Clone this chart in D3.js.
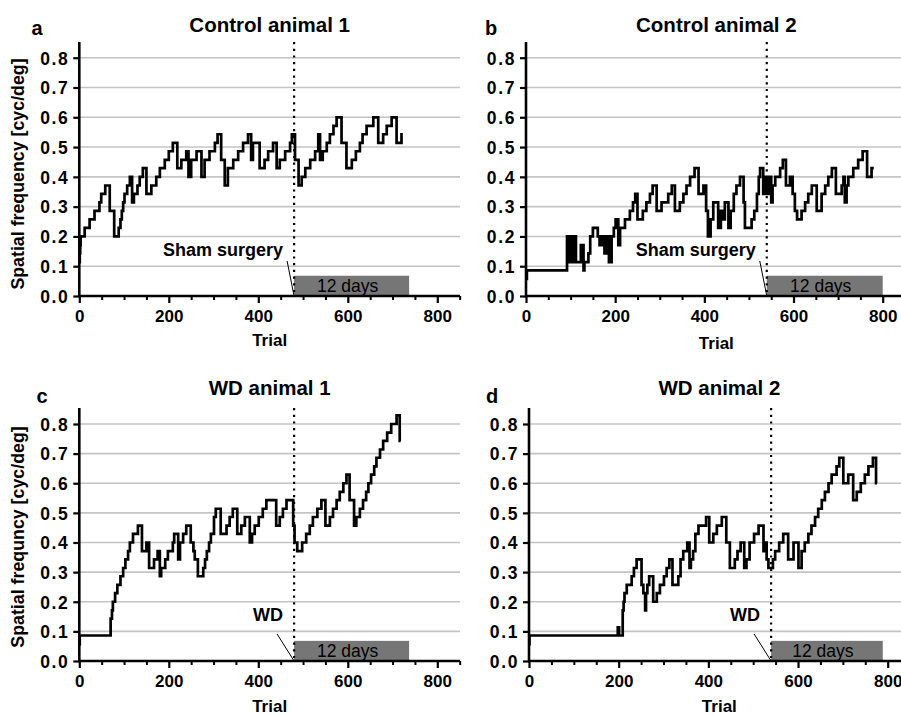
<!DOCTYPE html>
<html><head><meta charset="utf-8">
<script src="https://cdn.jsdelivr.net/npm/d3@7"></script>
<style>
html,body{margin:0;padding:0;background:#fff;}
svg{display:block;font-family:"Liberation Sans",Arial,sans-serif;}
</style></head>
<body>
<svg id="chart" width="901" height="715"></svg>
<script>
// ---------- data ----------
const xTicks = [0, 200, 400, 600, 800];
const yTicks = [0, 0.1, 0.2, 0.3, 0.4, 0.5, 0.6, 0.7, 0.8];
const panelLetters = ["a", "b", "c", "d"];
const panelTitles = ["Control animal 1", "Control animal 2", "WD animal 1", "WD animal 2"];
const yLabels = ["Spatial frequency [cyc/deg]", "", "Spatial frequncy [cyc/deg]", ""];
const eventLabels = ["Sham surgery", "Sham surgery", "WD", "WD"];
const eventTrials = [480, 540, 480, 540];
const periodEnd = [737, 800, 737, 789];
const periodLabel = "12 days";

const trialsA = [0,1,2,3,12,23,34,45,49,58,68,78,88,92,95,98,101,107,113,118,122,130,135,142,150,161,172,180,191,200,209,219,228,239,244,250,262,273,280,291,303,309,317,325,332,344,355,366,377,384,388,403,414,422,433,441,448,460,471,475,482,490,497,505,516,527,534,538,544,553,560,568,575,586,597,609,618,627,633,642,657,668,679,687,698,709,720,723];
const valuesA = [0.114,0.143,0.171,0.2,0.229,0.257,0.286,0.314,0.343,0.371,0.286,0.2,0.229,0.257,0.286,0.314,0.343,0.371,0.4,0.314,0.343,0.371,0.4,0.429,0.343,0.371,0.4,0.429,0.457,0.486,0.514,0.429,0.457,0.486,0.4,0.457,0.486,0.4,0.457,0.486,0.514,0.543,0.457,0.371,0.429,0.457,0.486,0.514,0.543,0.457,0.514,0.429,0.457,0.486,0.514,0.429,0.457,0.486,0.514,0.543,0.457,0.371,0.4,0.429,0.457,0.486,0.543,0.457,0.486,0.514,0.543,0.571,0.6,0.514,0.429,0.457,0.486,0.514,0.543,0.571,0.6,0.514,0.543,0.571,0.6,0.514,0.543,0.543];

const trialsB = [0,2,92,96,99,103,106,112,123,129,131,140,144,150,161,165,171,176,181,186,192,197,201,207,211,222,233,240,245,250,262,270,278,284,293,304,319,327,334,345,353,360,368,378,387,398,404,408,414,420,431,437,443,446,454,459,466,472,480,488,491,506,512,518,522,525,532,538,541,545,550,553,559,570,576,583,592,598,603,608,618,626,633,641,652,663,671,678,686,695,708,712,715,719,723,734,745,755,765,775,780];
const valuesB = [0.057,0.086,0.2,0.114,0.2,0.114,0.2,0.114,0.171,0.086,0.114,0.143,0.2,0.229,0.2,0.171,0.2,0.143,0.2,0.114,0.2,0.229,0.257,0.171,0.229,0.257,0.286,0.314,0.343,0.257,0.286,0.314,0.343,0.371,0.286,0.314,0.343,0.371,0.286,0.314,0.343,0.371,0.4,0.429,0.343,0.371,0.286,0.2,0.257,0.314,0.229,0.286,0.257,0.314,0.229,0.286,0.343,0.371,0.4,0.314,0.229,0.257,0.286,0.343,0.4,0.429,0.343,0.4,0.343,0.4,0.314,0.371,0.4,0.429,0.457,0.371,0.4,0.343,0.286,0.257,0.286,0.314,0.343,0.371,0.286,0.343,0.371,0.4,0.429,0.343,0.371,0.4,0.314,0.371,0.4,0.429,0.457,0.486,0.4,0.429,0.429];

const trialsC = [0,1,70,73,75,80,85,92,98,103,109,113,120,131,140,150,156,167,175,180,183,192,198,209,212,221,225,232,239,249,255,258,265,277,281,285,290,294,301,305,316,329,336,343,353,362,370,381,386,392,401,410,418,440,448,455,463,478,481,487,498,507,515,522,532,541,550,560,567,575,582,590,597,604,614,619,627,634,641,646,652,659,664,672,679,688,697,709,716,718];
const valuesC = [0.057,0.086,0.143,0.171,0.2,0.229,0.257,0.286,0.314,0.343,0.371,0.4,0.429,0.457,0.371,0.4,0.314,0.343,0.371,0.286,0.314,0.343,0.371,0.4,0.429,0.343,0.4,0.429,0.457,0.4,0.371,0.343,0.286,0.314,0.343,0.371,0.4,0.429,0.486,0.514,0.429,0.457,0.486,0.514,0.429,0.457,0.486,0.4,0.429,0.457,0.486,0.514,0.543,0.457,0.486,0.514,0.543,0.457,0.4,0.371,0.4,0.429,0.457,0.486,0.514,0.543,0.457,0.486,0.514,0.543,0.571,0.6,0.629,0.543,0.457,0.486,0.514,0.543,0.571,0.6,0.629,0.657,0.686,0.714,0.743,0.771,0.8,0.829,0.743,0.743];

const trialsD = [0,1,198,201,209,211,213,218,229,234,240,251,255,259,261,264,268,277,285,292,301,307,313,320,333,338,344,353,358,361,366,371,378,395,402,411,419,430,440,448,459,465,472,480,485,492,502,512,523,526,530,534,544,549,558,567,578,590,601,608,615,623,630,638,645,653,660,668,675,686,692,701,712,723,731,740,749,757,767,774,776];
const valuesD = [0.057,0.086,0.114,0.086,0.171,0.2,0.229,0.257,0.286,0.314,0.343,0.257,0.229,0.171,0.229,0.257,0.286,0.2,0.229,0.257,0.286,0.314,0.343,0.257,0.286,0.343,0.371,0.4,0.314,0.343,0.371,0.429,0.457,0.486,0.4,0.429,0.457,0.486,0.4,0.314,0.343,0.371,0.4,0.314,0.343,0.4,0.429,0.457,0.371,0.4,0.343,0.314,0.343,0.371,0.4,0.429,0.343,0.4,0.314,0.371,0.4,0.429,0.457,0.486,0.514,0.543,0.571,0.6,0.629,0.657,0.686,0.6,0.629,0.543,0.571,0.6,0.629,0.657,0.686,0.6,0.6];

const seriesTrials = [trialsA, trialsB, trialsC, trialsD];
const seriesValues = [valuesA, valuesB, valuesC, valuesD];

// ---------- layout ----------
const layout = [
  {x0: 79.3, x800: 437.3, xEnd: 460, yTop: 42, y0: 296, y08: 57.7, titleY: 32, letterX: 37, letterY: 35, trialY: 346, ylabY: 174},
  {x0: 526,  x800: 882.7, xEnd: 901, yTop: 42, y0: 296, y08: 57.7, titleY: 32, letterX: 491, letterY: 35, trialY: 349, ylabY: 174},
  {x0: 79.3, x800: 437.3, xEnd: 460, yTop: 408, y0: 661, y08: 424, titleY: 395, letterX: 42, letterY: 403, trialY: 712, ylabY: 537},
  {x0: 529,  x800: 887.7, xEnd: 901, yTop: 408, y0: 661, y08: 424, titleY: 395, letterX: 492, letterY: 403, trialY: 712, ylabY: 537}
];

const svg = d3.select("#chart");

layout.forEach((L, i) => {
  const g = svg.append("g");
  const x = d3.scaleLinear().domain([0, 800]).range([L.x0, L.x800]);
  const y = d3.scaleLinear().domain([0, 0.8]).range([L.y0, L.y08]);
  const xMax = x.invert(L.xEnd);
  const cx = (L.x0 + 460 - 79.3 + L.x0) / 2;

  // grid
  g.selectAll("line.grid").data(yTicks.filter(v => v > 0)).join("line")
    .attr("x1", L.x0).attr("x2", L.xEnd)
    .attr("y1", d => y(d)).attr("y2", d => y(d))
    .attr("stroke", "#c4c4c4").attr("stroke-width", 1.6);

  // grey period box
  g.append("rect")
    .attr("x", x(eventTrials[i])).attr("width", x(periodEnd[i]) - x(eventTrials[i]))
    .attr("y", y(0.068)).attr("height", y(0) - y(0.068))
    .attr("fill", "#767676");
  g.append("text")
    .attr("x", (x(eventTrials[i]) + x(periodEnd[i])) / 2 - 4).attr("y", y(0.034) + 6)
    .attr("text-anchor", "middle").attr("font-size", 17.5).attr("fill", "#000")
    .text(periodLabel);

  // dotted event line
  g.append("line")
    .attr("x1", x(eventTrials[i])).attr("x2", x(eventTrials[i]))
    .attr("y1", L.yTop).attr("y2", L.y0)
    .attr("stroke", "#000").attr("stroke-width", 2.2)
    .attr("stroke-dasharray", "2.2,4.5");

  // event label and leader line
  const lx = x(eventTrials[i]);
  const isSham = eventLabels[i] === "Sham surgery";
  g.append("line")
    .attr("x1", isSham ? lx - 7 : lx - 17).attr("y1", isSham ? L.y0 - 35 : L.y0 - 27)
    .attr("x2", lx).attr("y2", L.y0)
    .attr("stroke", "#000").attr("stroke-width", 1);
  g.append("text")
    .attr("x", lx - 11).attr("y", L.y0 - 40)
    .attr("text-anchor", "end").attr("font-size", 18).attr("font-weight", "bold")
    .text(eventLabels[i]);

  // data line
  const pts = seriesTrials[i].map((t, k) => [t, seriesValues[i][k]]);
  g.append("path")
    .datum(pts)
    .attr("fill", "none").attr("stroke", "#000").attr("stroke-width", 2.7)
    .attr("stroke-linejoin", "miter")
    .attr("d", d3.line().x(d => x(d[0])).y(d => y(d[1])).curve(d3.curveStepAfter));

  // y axis
  const yAxis = g.append("g").attr("transform", `translate(${L.x0},0)`)
    .call(d3.axisLeft(y).tickValues(yTicks).tickSize(6).tickFormat(d3.format(".1f")));
  yAxis.select(".domain").remove();
  yAxis.selectAll(".tick line").attr("stroke", "#000").attr("stroke-width", 2.2);
  yAxis.selectAll(".tick text").attr("x", -10).attr("dy", "0.36em")
    .attr("font-size", 17.5).attr("font-weight", "bold").attr("fill", "#000")
    .attr("letter-spacing", 1.6)
    .attr("font-family", "Liberation Sans, Arial, sans-serif");
  g.append("line").attr("x1", L.x0).attr("x2", L.x0).attr("y1", L.yTop).attr("y2", L.y0 + 1)
    .attr("stroke", "#000").attr("stroke-width", 2.6);

  // x axis
  const minor = d3.range(50, Math.floor(xMax) + 1, 50).filter(v => v % 200 !== 0);
  const xMinor = g.append("g").attr("transform", `translate(0,${L.y0})`)
    .call(d3.axisBottom(x).tickValues(minor).tickSize(4).tickFormat(""));
  xMinor.select(".domain").remove();
  xMinor.selectAll(".tick line").attr("stroke", "#000").attr("stroke-width", 2);
  const xAxis = g.append("g").attr("transform", `translate(0,${L.y0})`)
    .call(d3.axisBottom(x).tickValues(xTicks).tickSize(7).tickFormat(d3.format("d")));
  xAxis.select(".domain").remove();
  xAxis.selectAll(".tick line").attr("stroke", "#000").attr("stroke-width", 2.2);
  xAxis.selectAll(".tick text").attr("y", 26).attr("dy", 0)
    .attr("font-size", 17).attr("font-weight", "bold").attr("fill", "#000")
    .attr("font-family", "Liberation Sans, Arial, sans-serif");
  g.append("line").attr("x1", L.x0 - 1).attr("x2", L.xEnd).attr("y1", L.y0).attr("y2", L.y0)
    .attr("stroke", "#000").attr("stroke-width", 2.6);

  // titles
  g.append("text").attr("x", cx).attr("y", L.titleY)
    .attr("text-anchor", "middle").attr("font-size", 20.5).attr("font-weight", "bold")
    .text(panelTitles[i]);
  g.append("text").attr("x", L.letterX).attr("y", L.letterY)
    .attr("text-anchor", "middle").attr("font-size", 20).attr("font-weight", "bold")
    .text(panelLetters[i]);
  g.append("text").attr("x", cx).attr("y", L.trialY)
    .attr("text-anchor", "middle").attr("font-size", 17).attr("font-weight", "bold")
    .text("Trial");
  if (yLabels[i]) {
    g.append("text")
      .attr("transform", `translate(24,${L.ylabY}) rotate(-90)`)
      .attr("text-anchor", "middle").attr("font-size", 17.8).attr("font-weight", "bold")
      .text(yLabels[i]);
  }
});
</script>
</body></html>
